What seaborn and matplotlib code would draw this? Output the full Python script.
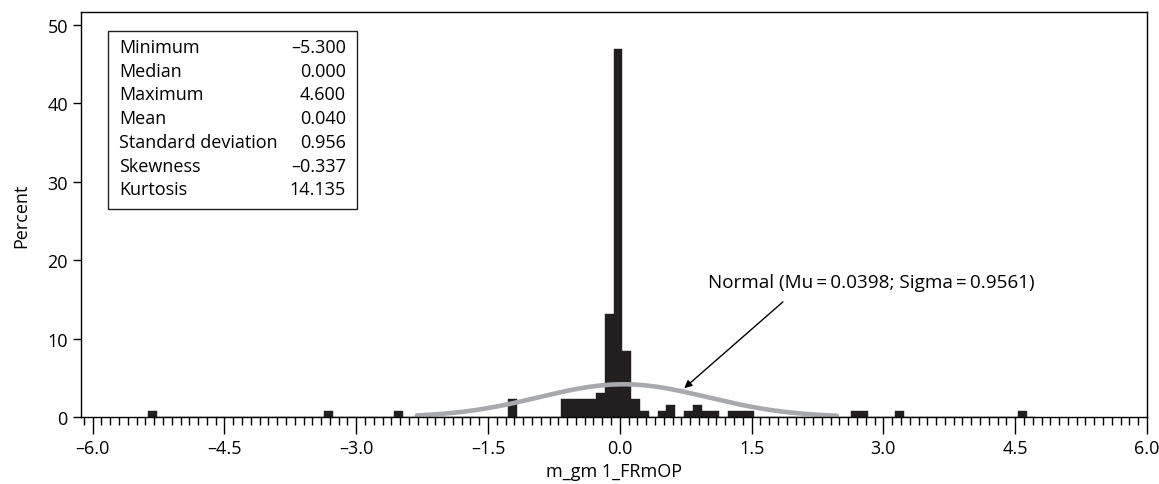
import numpy as np
import matplotlib
matplotlib.use("Agg")
import matplotlib.pyplot as plt
import seaborn as sns
from matplotlib.patches import Rectangle
from matplotlib.ticker import MultipleLocator, FuncFormatter

sns.set_theme(style="ticks")
plt.rcParams["font.family"] = ["Open Sans", "DejaVu Sans"]
plt.rcParams["font.size"] = 13
plt.rcParams["text.color"] = "black"
plt.rcParams["axes.labelcolor"] = "black"
plt.rcParams["xtick.color"] = "black"
plt.rcParams["ytick.color"] = "black"

# histogram of m_gm 1_FRmOP: bin midpoint and percent of observations
values = [-5.3, -3.3, -2.5, -1.2, -0.6, -0.5, -0.4, -0.3, -0.2, -0.1, 0.0,
          0.1, 0.2, 0.3, 0.5, 0.6, 0.8, 0.9, 1.0, 1.1, 1.3, 1.4, 1.5,
          2.7, 2.8, 3.2, 4.6]
percent = [0.77, 0.77, 0.77, 2.31, 2.31, 2.31, 2.31, 2.31, 3.08, 13.08, 46.92,
           8.46, 2.31, 0.77, 0.77, 1.54, 0.77, 1.54, 0.77, 0.77, 0.77, 0.77, 0.77,
           0.77, 0.77, 0.77, 0.77]

# fitted normal curve
mu = 0.0398
sigma = 0.9561
curve_range = (-2.31, 2.47)

stat_names = ["Minimum", "Median", "Maximum", "Mean", "Standard deviation",
              "Skewness", "Kurtosis"]
stat_values = ["\u20135.300", "0.000", "4.600", "0.040", "0.956",
               "\u20130.337", "14.135"]

x_ticks = [-6.0, -4.5, -3.0, -1.5, 0.0, 1.5, 3.0, 4.5, 6.0]
y_ticks = [0, 10, 20, 30, 40, 50]

fig = plt.figure(figsize=(11.59, 4.85), dpi=100)
ax = fig.add_axes([0.0699, 0.1381, 0.9197, 0.8351])

sns.histplot(x=values, weights=percent, binwidth=0.1, binrange=(-5.37, 4.73),
             stat="count", color="#231f20", alpha=1, edgecolor="#231f20",
             linewidth=0.3, ax=ax)

xs = np.linspace(curve_range[0], curve_range[1], 300)
ys = 100 * 0.1 * np.exp(-0.5 * ((xs - mu) / sigma) ** 2) / (sigma * np.sqrt(2 * np.pi))
sns.lineplot(x=xs, y=ys, color="#a7a9ac", linewidth=3.3, ax=ax)

ax.set_xlim(-6.133, 6.0)
ax.set_ylim(0, 51.6)
ax.set_xticks(x_ticks)
ax.set_yticks(y_ticks)
ax.xaxis.set_minor_locator(MultipleLocator(0.1))
ax.xaxis.set_major_formatter(FuncFormatter(lambda v, p: f"{v:.1f}".replace("-", "\u2013")))
ax.tick_params(axis="x", which="major", length=12, width=1, direction="out", labelsize=13)
ax.tick_params(axis="x", which="minor", length=6, width=1, direction="out")
ax.tick_params(axis="y", which="major", length=6, width=1, direction="out", labelsize=13)
for s in ax.spines.values():
    s.set_color("black")
    s.set_linewidth(1)

ax.set_xlabel("m_gm 1_FRmOP", fontsize=13, labelpad=4)
ax.set_ylabel("Percent", fontsize=13, labelpad=12)

# statistics box
ax.add_patch(Rectangle((0.0253, 0.5136), 0.2336, 0.4394, transform=ax.transAxes,
                       facecolor="white", edgecolor="#231f20", linewidth=1, zorder=5))
for i, (name, val) in enumerate(zip(stat_names, stat_values)):
    y = 0.9135 - i * 0.0585
    ax.text(0.0356, y, name, transform=ax.transAxes, ha="left", va="center",
            fontsize=13, zorder=6)
    ax.text(0.2486, y, val, transform=ax.transAxes, ha="right", va="center",
            fontsize=13, zorder=6)

ax.text(1.0, 17.2, "Normal (Mu\u2009=\u20090.0398; Sigma\u2009=\u20090.9561)",
        ha="left", va="center", fontsize=13.6)
ax.annotate("", xy=(0.71, 3.45), xytext=(1.88, 14.9),
            arrowprops=dict(arrowstyle="-|>", color="black", lw=1, mutation_scale=11))

fig.savefig("out.png", dpi=100)
